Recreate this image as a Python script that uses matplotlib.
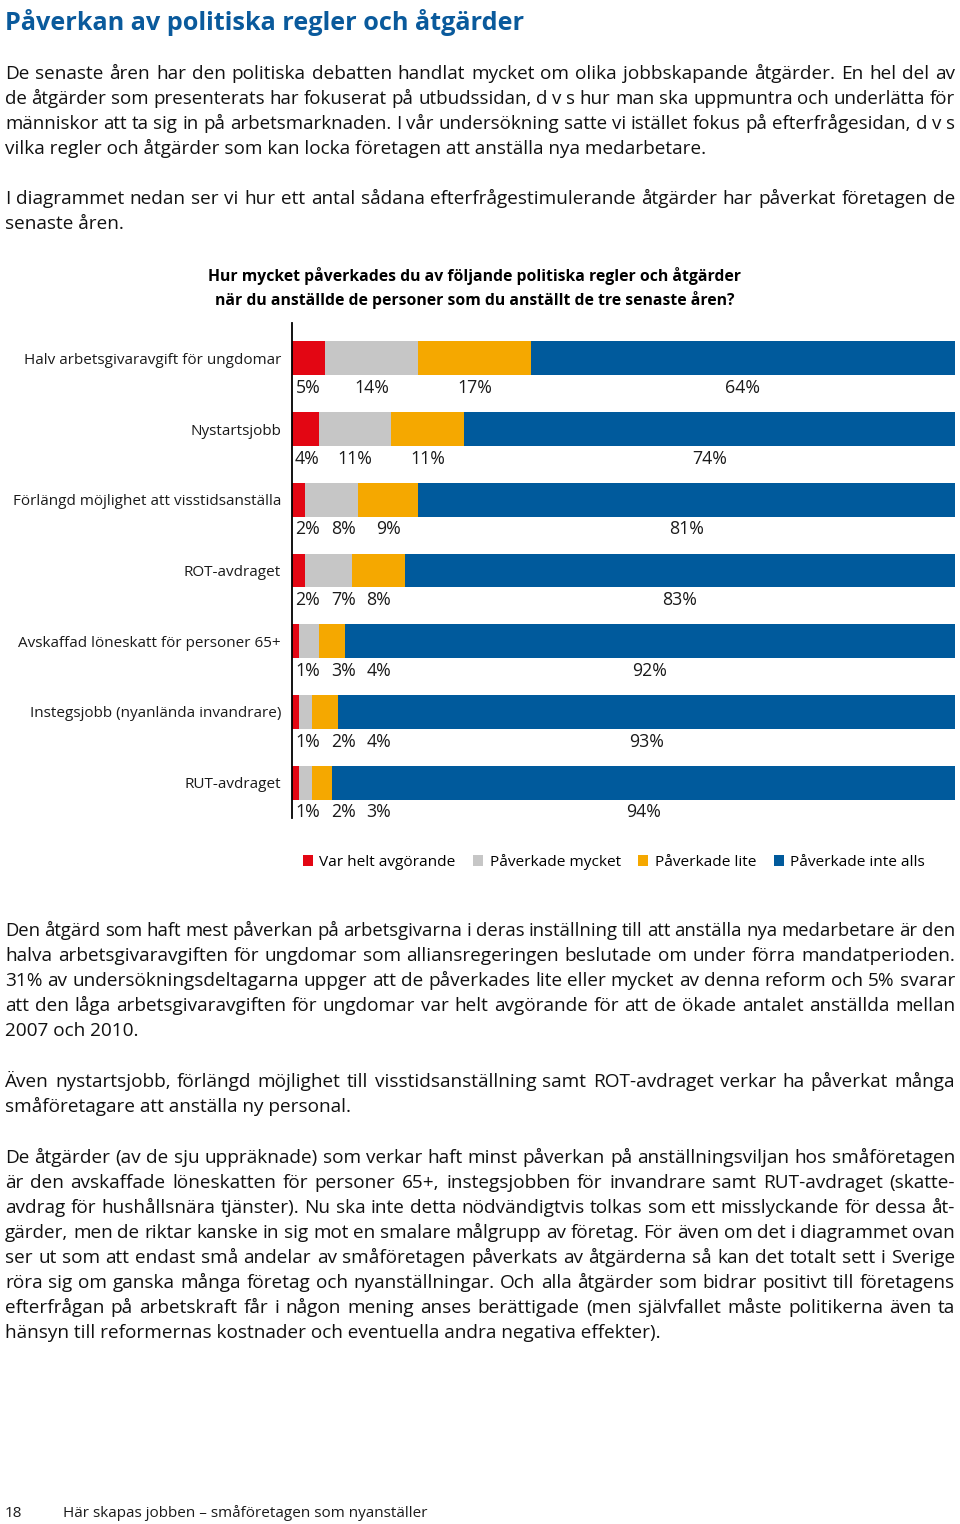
import numpy as np
import matplotlib
matplotlib.use("Agg")
import matplotlib.pyplot as plt

# chart data (percent of respondents)
categories = [
    "Halv arbetsgivaravgift för ungdomar",
    "Nystartsjobb",
    "Förlängd möjlighet att visstidsanställa",
    "ROT-avdraget",
    "Avskaffad löneskatt för personer 65+",
    "Instegsjobb (nyanlända invandrare)",
    "RUT-avdraget",
]
helt_avgorande = [5, 4, 2, 2, 1, 1, 1]
mycket = [14, 11, 8, 7, 3, 2, 2]
lite = [17, 11, 9, 8, 4, 4, 3]
inte_alls = [64, 74, 81, 83, 92, 93, 94]
series_names = ["Var helt avgörande", "Påverkade mycket", "Påverkade lite", "Påverkade inte alls"]
colors = ["#e30613", "#c6c6c6", "#f5a800", "#005a9c"]

# page text
title = "Påverkan av politiska regler och åtgärder"
intro_1 = [
    "De senaste åren har den politiska debatten handlat mycket om olika jobbskapande åtgärder. En hel del av",
    "de åtgärder som presenterats har fokuserat på utbudssidan, d v s hur man ska uppmuntra och underlätta för",
    "människor att ta sig in på arbetsmarknaden. I vår undersökning satte vi istället fokus på efterfrågesidan, d v s",
    "vilka regler och åtgärder som kan locka företagen att anställa nya medarbetare.",
]
intro_2 = [
    "I diagrammet nedan ser vi hur ett antal sådana efterfrågestimulerande åtgärder har påverkat företagen de",
    "senaste åren.",
]
question = [
    "Hur mycket påverkades du av följande politiska regler och åtgärder",
    "när du anställde de personer som du anställt de tre senaste åren?",
]
outro_1 = [
    "Den åtgärd som haft mest påverkan på arbetsgivarna i deras inställning till att anställa nya medarbetare är den",
    "halva arbetsgivaravgiften för ungdomar som alliansregeringen beslutade om under förra mandatperioden.",
    "31% av undersökningsdeltagarna uppger att de påverkades lite eller mycket av denna reform och 5% svarar",
    "att den låga arbetsgivaravgiften för ungdomar var helt avgörande för att de ökade antalet anställda mellan",
    "2007 och 2010.",
]
outro_2 = [
    "Även nystartsjobb, förlängd möjlighet till visstidsanställning samt ROT-avdraget verkar ha påverkat många",
    "småföretagare att anställa ny personal.",
]
outro_3 = [
    "De åtgärder (av de sju uppräknade) som verkar haft minst påverkan på anställningsviljan hos småföretagen",
    "är den avskaffade löneskatten för personer 65+, instegsjobben för invandrare samt RUT-avdraget (skatte-",
    "avdrag för hushållsnära tjänster). Nu ska inte detta nödvändigtvis tolkas som ett misslyckande för dessa åt-",
    "gärder, men de riktar kanske in sig mot en smalare målgrupp av företag. För även om det i diagrammet ovan",
    "ser ut som att endast små andelar av småföretagen påverkats av åtgärderna så kan det totalt sett i Sverige",
    "röra sig om ganska många företag och nyanställningar. Och alla åtgärder som bidrar positivt till företagens",
    "efterfrågan på arbetskraft får i någon mening anses berättigade (men självfallet måste politikerna även ta",
    "hänsyn till reformernas kostnader och eventuella andra negativa effekter).",
]
page_number = "18"
footer = "Här skapas jobben – småföretagen som nyanställer"

FONT = "Open Sans"
W, H = 960, 1524
plt.rcParams["font.family"] = [FONT, "DejaVu Sans"]

fig = plt.figure(figsize=(W / 100, H / 100), dpi=100)
renderer = fig.canvas.get_renderer()


def fx(x):
    return x / W


def fy(y):
    return 1 - y / H


def text_width(s, size, weight="normal"):
    t = fig.text(0, 0, s, fontsize=size, fontweight=weight)
    w = t.get_window_extent(renderer).width
    t.remove()
    return w


def fit_size(s, target, weight="normal"):
    return 10 * target / text_width(s, 10, weight)


def paragraph(lines, baseline, size, left=5, right=955, step=25):
    # justified text, last line ragged
    for i, line in enumerate(lines):
        y = fy(baseline + step * i)
        if i == len(lines) - 1:
            fig.text(fx(left), y, line, fontsize=size, va="baseline", color="#111111")
            continue
        natural = text_width(line, size)
        s = size if natural <= right - left else size * (right - left) / natural
        words = line.split(" ")
        widths = [text_width(wd, s) for wd in words]
        gap = (right - left - sum(widths)) / (len(words) - 1)
        x = left
        for wd, w in zip(words, widths):
            fig.text(fx(x), y, wd, fontsize=s, va="baseline", color="#111111")
            x += w + gap


# body font size from the typical justified line
body_lines = intro_1[:-1] + intro_2[:-1] + outro_1[:-1] + outro_2[:-1] + outro_3[:-1]
body_size = 10 * 945 / np.median([text_width(l, 10) for l in body_lines])

# title
fig.text(fx(5), fy(30), title, fontsize=fit_size(title, 523, "bold"),
         fontweight="bold", color="#0a5a9c", va="baseline")

paragraph(intro_1, 79, body_size)
paragraph(intro_2, 204, body_size)

q_size = fit_size(question[0], 532, "bold")
fig.text(fx(475), fy(281), question[0], fontsize=q_size, fontweight="bold", ha="center", va="baseline")
fig.text(fx(475), fy(305), question[1], fontsize=q_size, fontweight="bold", ha="center", va="baseline")

# chart
ax = fig.add_axes([fx(292), fy(818), 663 / W, 495 / H])
series = [helt_avgorande, mycket, lite, inte_alls]
y = np.arange(len(categories))
left = np.zeros(len(categories))
for vals, name, c in zip(series, series_names, colors):
    ax.barh(y, vals, left=left, height=0.48, color=c, label=name, zorder=1)
    left += np.array(vals)

ax.set_xlim(0, 100)
ax.set_ylim(len(categories) - 0.5, -0.5)
for s in ["top", "right", "bottom"]:
    ax.spines[s].set_visible(False)
ax.spines["left"].set_linewidth(1.3)
ax.spines["left"].set_zorder(3)
ax.set_xticks([])
ax.set_yticks(y)
tick_size = fit_size(categories[0], 258)
ax.set_yticklabels(categories, fontsize=tick_size, color="#1a1a1a")
ax.tick_params(axis="y", length=0, pad=8)

# percent labels under each bar, centred on segment, pushed right to avoid overlap
pct_size = fit_size("64%", 35)
px_per_unit = 663 / 100
gap_units = 11 / px_per_unit
for i in range(len(categories)):
    start = 0
    prev_right = 3 / px_per_unit - gap_units
    for vals in series:
        v = vals[i]
        lab = f"{v}%"
        w = text_width(lab, pct_size) / px_per_unit
        x_left = max(start + v / 2 - w / 2, prev_right + gap_units)
        ax.text(x_left, i + 0.42, lab, fontsize=pct_size, ha="left", va="center",
                color="#1a1a1a", clip_on=False)
        prev_right = x_left + w
        start += v

leg_size = fit_size(series_names[0], 135)
ax.legend(loc="center", bbox_to_anchor=(fx(614), fy(862)), bbox_transform=fig.transFigure,
          ncol=4, frameon=False, fontsize=leg_size, handlelength=0.66, handleheight=0.66,
          handletextpad=0.42, columnspacing=1.14, borderaxespad=0, borderpad=0)

paragraph(outro_1, 936, body_size)
paragraph(outro_2, 1087, body_size)
paragraph(outro_3, 1163, body_size)

foot_size = fit_size(footer, 363)
fig.text(fx(5), fy(1517), page_number, fontsize=foot_size, va="baseline", color="#1a1a1a")
fig.text(fx(63), fy(1517), footer, fontsize=foot_size, va="baseline", color="#1a1a1a")

fig.savefig("out.png", dpi=100)
